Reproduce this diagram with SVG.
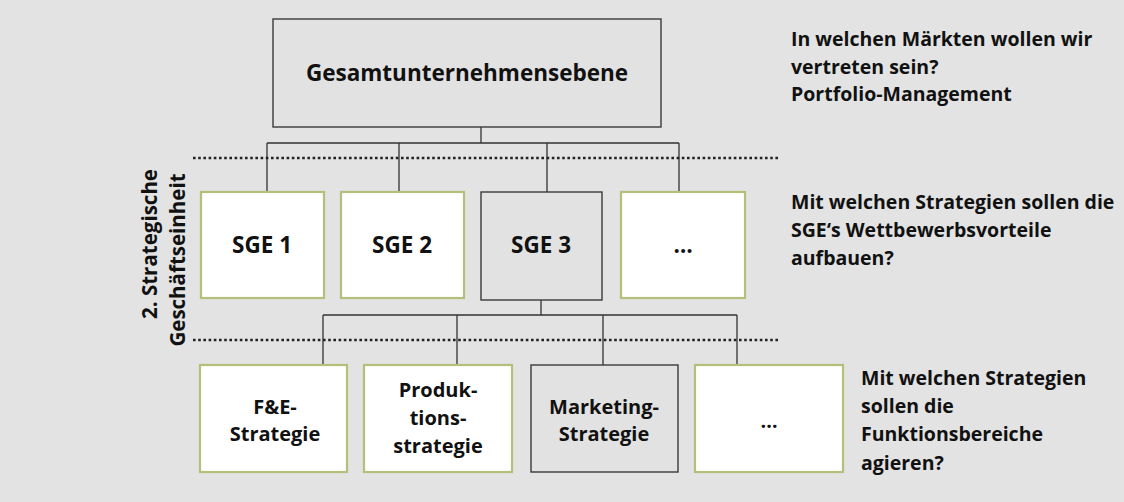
<svg xmlns="http://www.w3.org/2000/svg" width="1124" height="502" viewBox="0 0 1124 502">
<style>
text{font-family:"Open Sans",Lato,"Liberation Sans",sans-serif;font-weight:bold;fill:#111}
.box{font-size:20px;text-anchor:middle}
.sge{font-size:22.5px;text-anchor:middle}
.side{font-size:20.5px;text-anchor:middle}
.q{font-size:19.5px}
.g{fill:#fff;stroke:#b3c07a;stroke-width:2.2}
.d{fill:#e2e2e2;stroke:#3a3a3a;stroke-width:1.4}
.c{fill:none;stroke:#333;stroke-width:1.3}
.dot{stroke:#222;stroke-width:2.6;stroke-dasharray:2.6 2.6}
</style>
<rect width="1124" height="502" fill="#e3e3e3"/>
<g id="connectors">
<path class="c" d="M481 127V143M267 143H679M267 143V192M399 143V192M547 143V192M679 143V192"/>
<path class="c" d="M541 300V315M323 315H737M323 315V365M457 315V365M603 315V365M737 315V365"/>
<line class="dot" x1="193" y1="158" x2="778" y2="158"/>
<line class="dot" x1="193" y1="340" x2="778" y2="340"/>
</g>
<g id="top"><rect class="d" x="273" y="19" width="388" height="108"/><text class="sge" x="467" y="81" font-size="22">Gesamtunternehmensebene</text></g>
<g id="sge1"><rect class="g" x="201" y="192" width="123" height="106"/><text class="sge" x="262" y="253">SGE 1</text></g>
<g id="sge2"><rect class="g" x="341" y="192" width="123" height="106"/><text class="sge" x="402" y="253">SGE 2</text></g>
<g id="sge3"><rect class="d" x="481" y="192" width="121" height="108"/><text class="sge" x="541" y="253">SGE 3</text></g>
<g id="sge4"><rect class="g" x="621" y="192" width="124" height="106"/><text class="sge" x="683" y="253">…</text></g>
<g id="fe"><rect class="g" x="200" y="365" width="147" height="107"/><text class="box" x="275" y="414">F&amp;E-</text><text class="box" x="275" y="441">Strategie</text></g>
<g id="prod"><rect class="g" x="364" y="365" width="148" height="107"/><text class="box" x="438" y="397">Produk-</text><text class="box" x="438" y="425">tions-</text><text class="box" x="438" y="453">strategie</text></g>
<g id="mark"><rect class="d" x="531" y="365" width="147" height="107"/><text class="box" x="604" y="414">Marketing-</text><text class="box" x="604" y="441">Strategie</text></g>
<g id="etc"><rect class="g" x="695" y="365" width="148" height="107"/><text class="box" x="769" y="428">…</text></g>
<g id="side">
<text class="side" transform="translate(157 244) rotate(-90)">2. Strategische</text>
<text class="side" transform="translate(185 260) rotate(-90)">Geschäftseinheit</text>
</g>
<g id="q1"><text class="q" x="791" y="46">In welchen Märkten wollen wir</text><text class="q" x="791" y="74">vertreten sein?</text><text class="q" x="791" y="101">Portfolio-Management</text></g>
<g id="q2"><text class="q" x="791" y="209">Mit welchen Strategien sollen die</text><text class="q" x="791" y="237">SGE‘s Wettbewerbsvorteile</text><text class="q" x="791" y="265">aufbauen?</text></g>
<g id="q3"><text class="q" x="861" y="385">Mit welchen Strategien</text><text class="q" x="861" y="413">sollen die</text><text class="q" x="861" y="441">Funktionsbereiche</text><text class="q" x="861" y="470">agieren?</text></g>
</svg>
